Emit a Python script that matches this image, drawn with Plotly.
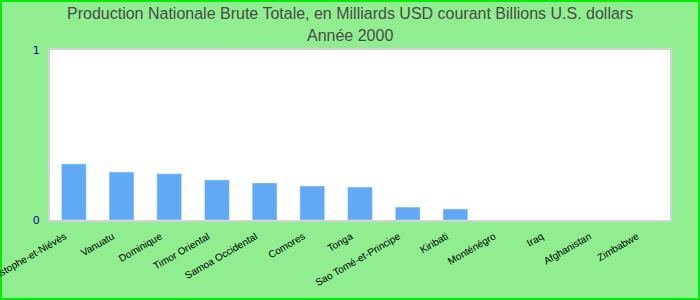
import plotly.graph_objects as go

categories = ["Saint-Christophe-et-Niévès", "Vanuatu", "Dominique", "Timor Oriental",
              "Samoa Occidental", "Comores", "Tonga", "Sao Tomé-et-Principe", "Kiribati",
              "Monténégro", "Iraq", "Afghanistan", "Zimbabwe"]
values = [0.33, 0.282, 0.272, 0.236, 0.218, 0.2, 0.194, 0.076, 0.065, None, None, None, None]
y_ticks = [0, 1]
y_tick_labels = ["0", "1"]

title_line1 = "Production Nationale Brute Totale, en Milliards USD courant Billions U.S. dollars"
title_line2 = "Année 2000"

ml, mr, mt, mb = 50, 30, 50, 80
W, H = 700, 300
pw, ph = W - ml - mr, H - mt - mb


def py(pixel_y):
    # convert a pixel row (from top of page) to paper coordinate
    return (H - mb - pixel_y) / ph


title_font = dict(family="Liberation Sans, Arial", size=16, color="#4a4a4a")

fig = go.Figure(go.Bar(x=categories, y=values, marker_color="#61a9f5", width=0.52))

fig.update_layout(
    width=W, height=H,
    margin=dict(l=ml, r=mr, t=mt, b=mb, autoexpand=False),
    paper_bgcolor="#90ee90",
    plot_bgcolor="white",
    showlegend=False,
    annotations=[
        dict(text=title_line1, xref="paper", yref="paper", x=0.5 - (ml - mr) / 2 / pw, y=py(13),
             xanchor="center", yanchor="middle", showarrow=False, font=title_font),
        dict(text=title_line2, xref="paper", yref="paper", x=0.5 - (ml - mr) / 2 / pw, y=py(35.5),
             xanchor="center", yanchor="middle", showarrow=False, font=title_font),
    ],
    shapes=[
        dict(type="rect", xref="paper", yref="paper",
             x0=-(ml - 1) / pw, x1=1 + (mr - 1) / pw, y0=-(mb - 1) / ph, y1=1 + (mt - 1) / ph,
             line=dict(color="#00ee00", width=2), layer="below"),
    ],
)
fig.update_xaxes(
    tickangle=-30, tickfont=dict(family="Liberation Sans, Arial", size=10, color="black"),
    ticklabelshift=-9, ticklabelstandoff=5,
    showline=True, linecolor="#d3d3d3", linewidth=2, mirror=True,
    showgrid=False, ticks="", automargin=False,
)
fig.update_yaxes(
    range=[0, 1], tickvals=y_ticks, ticktext=y_tick_labels,
    tickfont=dict(family="DejaVu Sans", size=11, color="#0a0a96"),
    ticklabelstandoff=6,
    showline=True, linecolor="#d3d3d3", linewidth=2, mirror=True,
    showgrid=False, zeroline=False, ticks="", automargin=False,
)

fig.write_html("out.html")
